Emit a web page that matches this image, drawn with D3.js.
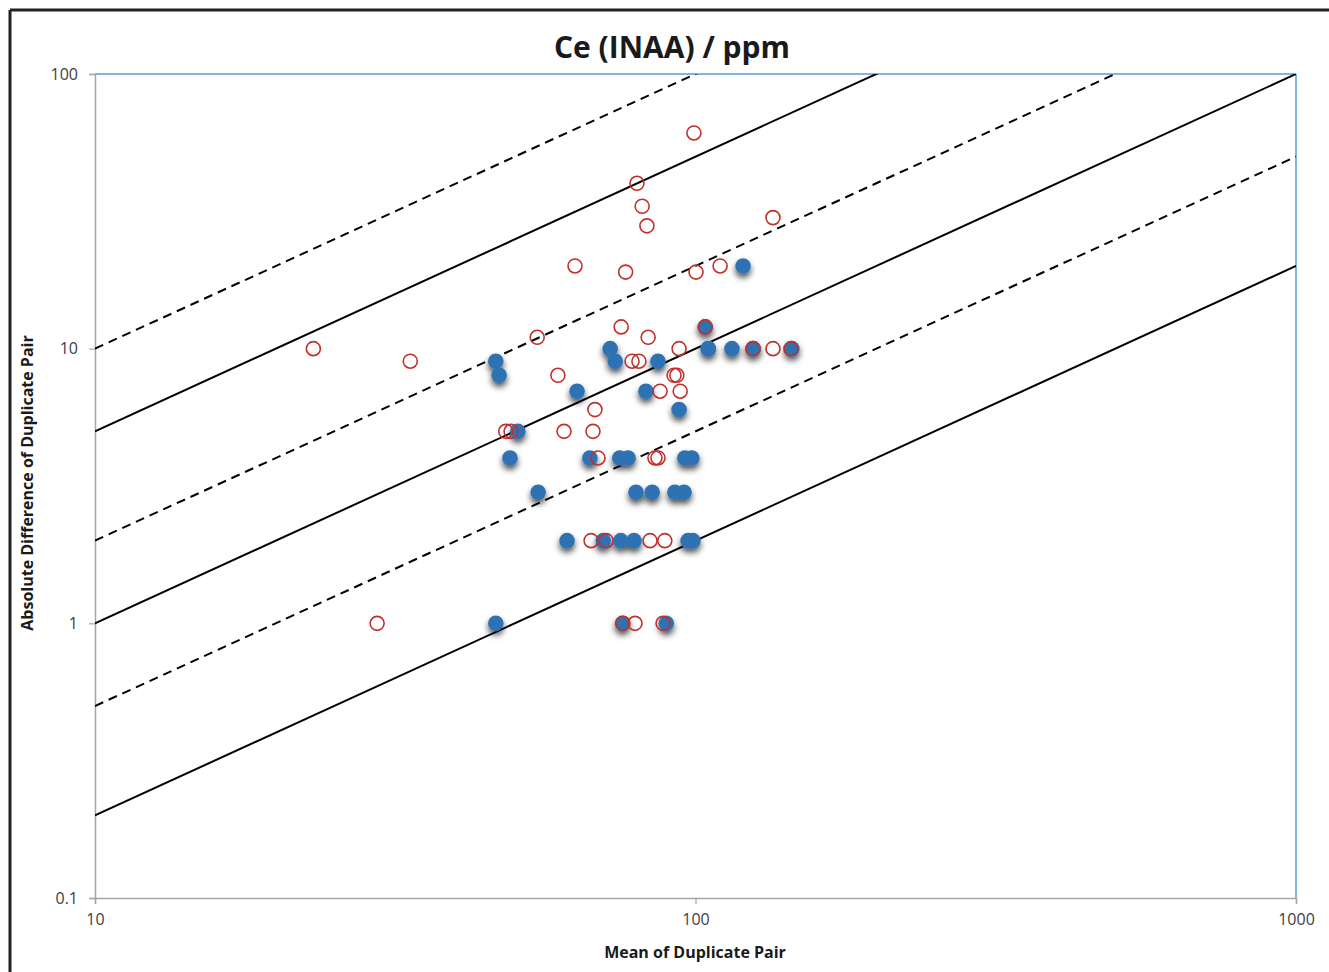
<!DOCTYPE html>
<html><head><meta charset="utf-8">
<script src="https://cdn.jsdelivr.net/npm/d3@7"></script>
<style>body{margin:0;background:#fff}svg{display:block}text{font-family:"Open Sans",sans-serif}</style>
</head><body><svg id="c" width="1329" height="972"></svg>
<script>
// ---- data ----
const title = "Ce (INAA) / ppm";
const xLabel = "Mean of Duplicate Pair";
const yLabel = "Absolute Difference of Duplicate Pair";
const xTicks = [10, 100, 1000];
const yTicks = [0.1, 1, 10, 100];
const xTickLabels = ["10", "100", "1000"];
const yTickLabels = ["0.1", "1", "10", "100"];
// reference lines: y = x * ratio
const solidRatios = [1/2, 1/10, 1/50];
const dashedRatios = [1, 1/5, 1/20];
// series A (filled blue)
const blueX = [46.5,75.6,89.4, 61.1,70.2,75.1,79.0,97.2,99.0, 54.7,79.6,84.7,92.4,95.7,
  49.1,66.7,74.8,77.2,96.0,98.6, 50.6,93.9,63.5,82.7,47.1,46.5,73.5,86.6,
  72.1,105.0,105.0,115.0,124.7,124.7,144.7, 103.8,120.0];
const blueY = [1,1,1, 2,2,2,2,2,2, 3,3,3,3,3,
  4,4,4,4,4,4, 5,6,7,7,8,9,9,9,
  10,10,10,10,10,10,10, 12,20];
// series B (open red)
const redX = [23.1,33.5,29.5,99.4,79.9,81.5,83.0,134.6,63.0,76.5,100.2,109.9,54.5,75.2,83.4,93.9,
  59.0,68.0,67.5,60.4,48.3,49.3,68.8,78.4,80.5,92.1,93.1,87.3,94.3,85.6,86.6,
  67.0,71.0,84.0,88.9,75.7,79.3,88.3,103.8,124.7,134.6,144.2];
const redY = [10,9,1,61,40,33,28,30,20,19,19,20,11,12,11,10,
  8,6,5,5,5,5,4,9,9,8,8,7,7,4,4,
  2,2,2,2,1,1,1,12,10,10,10];

// ---- layout ----
const svg = d3.select("#c");
const L = 95, R = 1296, T = 74, B = 898;
const x = d3.scaleLog().domain([10, 1000]).range([L, R]);
const y = d3.scaleLog().domain([0.1, 100]).range([B, T]);

const defs = svg.append("defs");
defs.append("clipPath").attr("id","clip").append("rect")
  .attr("x",L).attr("y",T).attr("width",R-L).attr("height",B-T);
const f = defs.append("filter").attr("id","sh").attr("x","-100%").attr("y","-100%").attr("width","300%").attr("height","300%");
f.append("feDropShadow").attr("dx",0).attr("dy",4).attr("stdDeviation",3)
  .attr("flood-color","#000").attr("flood-opacity",0.7);

// outer frame
svg.append("line").attr("x1",10).attr("x2",1329).attr("y1",10).attr("y2",10).attr("stroke","#222").attr("stroke-width",3);
svg.append("line").attr("x1",10).attr("x2",10).attr("y1",10).attr("y2",972).attr("stroke","#222").attr("stroke-width",3);

// plot borders
svg.append("line").attr("x1",L).attr("x2",R).attr("y1",T).attr("y2",T).attr("stroke","#5b9bd5").attr("stroke-width",1.5);
svg.append("line").attr("x1",R).attr("x2",R).attr("y1",T).attr("y2",B).attr("stroke","#5b9bd5").attr("stroke-width",1.5);

// axes
const xAxis = d3.axisBottom(x).tickValues(xTicks).tickFormat((d,i)=>xTickLabels[i]).tickSize(6).tickPadding(10);
const yAxis = d3.axisLeft(y).tickValues(yTicks).tickFormat((d,i)=>yTickLabels[i]).tickSize(6).tickPadding(11);
const gx = svg.append("g").attr("transform",`translate(0,${B})`).call(xAxis);
const gy = svg.append("g").attr("transform",`translate(${L},0)`).call(yAxis);
[gx,gy].forEach(g=>{
  g.select(".domain").attr("stroke","#a6a6a6").attr("stroke-width",1.5);
  g.selectAll(".tick line").attr("stroke","#a6a6a6").attr("stroke-width",1.2);
  g.selectAll(".tick text").attr("fill","#404040").style("font-size","16px").style("font-family","'Open Sans',sans-serif");
});

// reference lines
const lg = svg.append("g").attr("clip-path","url(#clip)");
const xs = [10, 1000];
const lineGen = r => d3.line().x(d=>x(d)).y(d=>y(d*r))(xs);
solidRatios.forEach(r=>lg.append("path").attr("d",lineGen(r)).attr("stroke","#000").attr("stroke-width",2).attr("fill","none"));
dashedRatios.forEach(r=>lg.append("path").attr("d",lineGen(r)).attr("stroke","#000").attr("stroke-width",2).attr("stroke-dasharray","9,6").attr("fill","none"));

// points
const blue = blueX.map((v,i)=>[v, blueY[i]]);
const red = redX.map((v,i)=>[v, redY[i]]);
svg.append("g").attr("filter","url(#sh)").selectAll("circle").data(blue).join("circle")
  .attr("cx",d=>x(d[0])).attr("cy",d=>y(d[1])).attr("r",7.8).attr("fill","#2f72b4");
svg.append("g").selectAll("circle").data(red).join("circle")
  .attr("cx",d=>x(d[0])).attr("cy",d=>y(d[1])).attr("r",7).attr("fill","none")
  .attr("stroke","#c0302c").attr("stroke-width",1.6);

// titles
svg.append("text").attr("x",672).attr("y",58).attr("text-anchor","middle")
  .style("font-size","30px").style("font-weight","bold").attr("fill","#1a1a1a").text(title);
svg.append("text").attr("x",695).attr("y",958).attr("text-anchor","middle")
  .style("font-size","16px").style("font-weight","bold").attr("fill","#1a1a1a").text(xLabel);
svg.append("text").attr("transform","translate(33,483) rotate(-90)").attr("text-anchor","middle")
  .style("font-size","16px").style("font-weight","bold").attr("fill","#1a1a1a").text(yLabel);
</script></body></html>
